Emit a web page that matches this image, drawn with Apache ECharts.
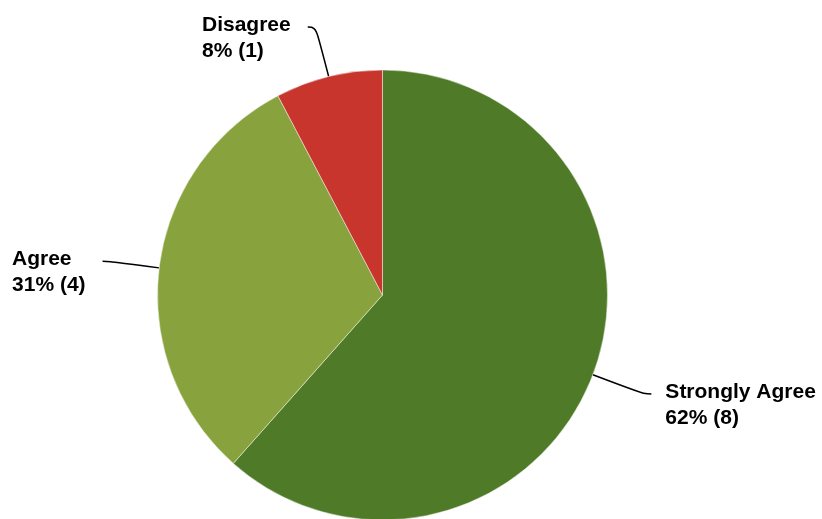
<!DOCTYPE html>
<html>
<head>
<meta charset="utf-8">
<script src="https://cdn.jsdelivr.net/npm/echarts@6/dist/echarts.min.js"></script>
<style>
html,body{margin:0;padding:0;background:#fff;}
#chart{width:822px;height:519px;}
</style>
</head>
<body>
<div id="chart"></div>
<script>
const categories = ['Strongly Agree', 'Agree', 'Disagree'];
const counts = [8, 4, 1];
const colors = ['#4f7b28', '#88a23e', '#c7352d'];

const total = counts.reduce((a, b) => a + b, 0);
const data = categories.map((c, i) => ({ name: c, value: counts[i], itemStyle: { color: colors[i] } }));

const chart = echarts.init(document.getElementById('chart'), null, { renderer: 'canvas' });
const cx = 382.5;
chart.setOption({
  animation: false,
  backgroundColor: '#ffffff',
  series: [{
    type: 'pie',
    center: [cx, 295],
    radius: 225,
    startAngle: 90,
    clockwise: true,
    data: data,
    itemStyle: { borderColor: 'rgba(255,255,255,0.45)', borderWidth: 1 },
    label: {
      show: true,
      formatter: function (p) {
        return p.name + '\n' + Math.round(p.value / total * 100) + '% (' + p.value + ')';
      },
      fontFamily: 'Liberation Sans, Arial, sans-serif',
      fontWeight: 'bold',
      fontSize: 21,
      lineHeight: 26,
      color: '#000000',
      align: 'left'
    },
    labelLine: {
      show: true,
      length: 54,
      length2: 8,
      smooth: 0.5,
      lineStyle: { color: '#000000', width: 1.5 }
    },
    labelLayout: function (params) {
      const pts = params.labelLinePoints;
      if (!pts) return {};
      const end = pts[pts.length - 1];
      const w = params.labelRect.width;
      const right = end[0] > cx;
      return {
        x: right ? end[0] + 14 : end[0] - 17 - w,
        y: end[1] + 11,
        align: 'left',
        verticalAlign: 'middle',
        labelLinePoints: pts.map(p => [p[0], p[1]])
      };
    }
  }]
});
</script>
</body>
</html>
